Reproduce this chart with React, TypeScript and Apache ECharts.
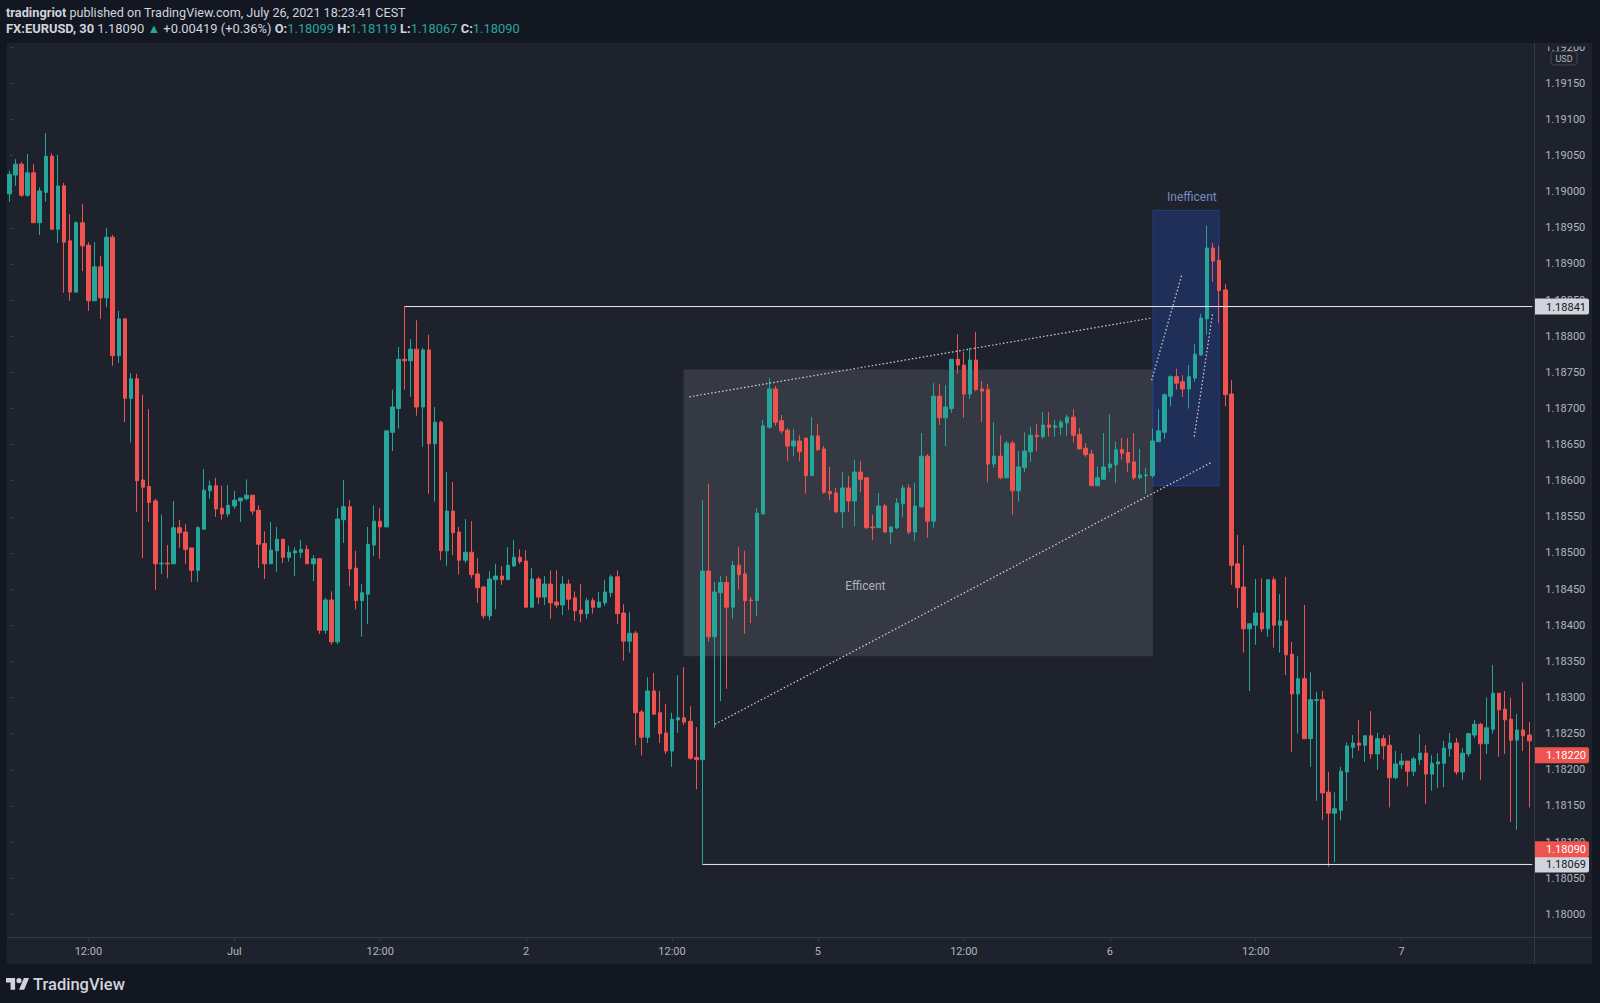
import React, { useEffect, useRef } from "react";
import * as echarts from "echarts";

// ---- OHLC data (EURUSD 30m), index 0 = 30 Jun 05:30 ----
const opens = [
  1.18997, 1.19023, 1.19038, 1.18995, 1.19026, 1.18957, 1.18999, 1.19049, 1.18948, 1.19008,
  1.18932, 1.18861, 1.18957, 1.18926, 1.18849, 1.18896, 1.18853, 1.18937, 1.18773, 1.18824,
  1.18714, 1.18741, 1.18601, 1.18592, 1.18572, 1.18485, 1.18486, 1.18485, 1.18535, 1.18529,
  1.18507, 1.18476, 1.18533, 1.18586, 1.18593, 1.18562, 1.18554, 1.18565, 1.18572, 1.18575,
  1.1858, 1.18559, 1.18513, 1.18485, 1.18503, 1.18519, 1.18494, 1.185, 1.18501, 1.18505,
  1.18485, 1.18492, 1.18393, 1.18435, 1.18377, 1.18546, 1.18564, 1.18479, 1.18434, 1.18443,
  1.18511, 1.18544, 1.18536, 1.18667, 1.187, 1.18768, 1.18766, 1.18782, 1.18702, 1.18781,
  1.18651, 1.18681, 1.18503, 1.18558, 1.18529, 1.1849, 1.18501, 1.18471, 1.18453, 1.18413,
  1.18463, 1.18468, 1.18463, 1.18482, 1.18494, 1.18489, 1.18425, 1.18464, 1.18439, 1.18457,
  1.18432, 1.18428, 1.18457, 1.18438, 1.18421, 1.18416, 1.18434, 1.18425, 1.18431, 1.18445,
  1.18467, 1.18417, 1.18378, 1.18389, 1.1828, 1.18245, 1.18309, 1.18279, 1.18251, 1.18226,
  1.18269, 1.18272, 1.18267, 1.18217, 1.18214, 1.18475, 1.18384, 1.18445, 1.18459, 1.18425,
  1.18483, 1.18471, 1.18435, 1.18434, 1.18554, 1.18674, 1.18727, 1.18683, 1.1867, 1.18648,
  1.18655, 1.18659, 1.18607, 1.18662, 1.18644, 1.18585, 1.18583, 1.18557, 1.1859, 1.18572,
  1.18612, 1.18604, 1.18536, 1.18535, 1.18565, 1.18529, 1.18535, 1.18568, 1.1859, 1.18529,
  1.18564, 1.18634, 1.18544, 1.18717, 1.18687, 1.187, 1.18768, 1.1876, 1.1872, 1.18767,
  1.18727, 1.18726, 1.18623, 1.18634, 1.18604, 1.18652, 1.18586, 1.18618, 1.1864, 1.18663,
  1.18661, 1.18677, 1.18674, 1.18674, 1.1868, 1.18688, 1.18664, 1.18645, 1.18637, 1.18593,
  1.18602, 1.18618, 1.18622, 1.18643, 1.18639, 1.18626, 1.18604, 1.18607, 1.18607, 1.18654,
  1.18667, 1.18717, 1.18744, 1.18737, 1.18727, 1.18742, 1.18774, 1.18824, 1.18922, 1.18905,
  1.18864, 1.1872, 1.18485, 1.18453, 1.18395, 1.184, 1.18417, 1.18395, 1.18463, 1.184,
  1.18406, 1.1836, 1.18305, 1.18326, 1.18243, 1.18296, 1.18297, 1.18169, 1.1814, 1.18144,
  1.18197, 1.18231, 1.18237, 1.18234, 1.18247, 1.18222, 1.18243, 1.18234, 1.18189, 1.18207,
  1.18212, 1.18198, 1.18214, 1.18223, 1.18194, 1.18208, 1.18209, 1.18229, 1.18237, 1.18197,
  1.18222, 1.18248, 1.18263, 1.18236, 1.18256, 1.18306, 1.18284, 1.1827, 1.18241, 1.18255,
  1.18248,
];
const highs = [
  1.19029, 1.19045, 1.19041, 1.19052, 1.19038, 1.19006, 1.19081, 1.19053, 1.19051, 1.19012,
  1.18969, 1.18959, 1.18983, 1.1893, 1.1893, 1.18911, 1.1895, 1.1894, 1.18835, 1.18825,
  1.18749, 1.18748, 1.18719, 1.18699, 1.18575, 1.18553, 1.18511, 1.18572, 1.18546, 1.1854,
  1.18507, 1.18537, 1.18616, 1.186, 1.18604, 1.18593, 1.18594, 1.18586, 1.18576, 1.18602,
  1.1858, 1.18566, 1.1853, 1.18543, 1.18536, 1.18519, 1.1851, 1.18508, 1.18518, 1.18511,
  1.18497, 1.18493, 1.18438, 1.18447, 1.18562, 1.18601, 1.18573, 1.18503, 1.18457, 1.18536,
  1.18566, 1.18562, 1.1867, 1.18726, 1.18785, 1.18841, 1.18796, 1.18822, 1.18784, 1.18802,
  1.18702, 1.18683, 1.18612, 1.18598, 1.18536, 1.18547, 1.18544, 1.18493, 1.18454, 1.18475,
  1.18485, 1.18482, 1.18508, 1.18518, 1.18505, 1.18504, 1.18479, 1.18467, 1.18468, 1.18476,
  1.18476, 1.18468, 1.18463, 1.18447, 1.18457, 1.18438, 1.18438, 1.18446, 1.18463, 1.1847,
  1.18476, 1.18429, 1.18418, 1.18392, 1.18283, 1.18328, 1.18334, 1.18309, 1.18291, 1.18279,
  1.18331, 1.18342, 1.18288, 1.18259, 1.18573, 1.18596, 1.1846, 1.18468, 1.18468, 1.18489,
  1.18508, 1.18503, 1.18439, 1.18562, 1.18684, 1.18742, 1.18731, 1.18691, 1.18673, 1.18672,
  1.18663, 1.18659, 1.18688, 1.18679, 1.18648, 1.18619, 1.1859, 1.18612, 1.18607, 1.18629,
  1.18627, 1.18605, 1.18553, 1.18583, 1.18568, 1.18536, 1.18576, 1.18594, 1.18595, 1.18597,
  1.18666, 1.18637, 1.18735, 1.18734, 1.18732, 1.18768, 1.18803, 1.18778, 1.18784, 1.18806,
  1.18738, 1.18734, 1.18681, 1.18663, 1.18655, 1.18655, 1.18641, 1.18667, 1.18674, 1.18679,
  1.18695, 1.18695, 1.18684, 1.18684, 1.18691, 1.18699, 1.18673, 1.18652, 1.18643, 1.1862,
  1.18666, 1.18692, 1.18654, 1.18659, 1.18659, 1.18666, 1.18644, 1.18618, 1.18672, 1.18699,
  1.18721, 1.18746, 1.18755, 1.18746, 1.1876, 1.18789, 1.18831, 1.18953, 1.18929, 1.18925,
  1.18872, 1.18739, 1.18525, 1.18511, 1.18403, 1.18464, 1.18465, 1.18463, 1.18467, 1.18443,
  1.18467, 1.18377, 1.18357, 1.18428, 1.18335, 1.18308, 1.18309, 1.18197, 1.18169, 1.18204,
  1.18238, 1.18248, 1.18269, 1.18247, 1.18281, 1.18251, 1.18248, 1.18248, 1.18226, 1.18223,
  1.18212, 1.18218, 1.18249, 1.18234, 1.1822, 1.18223, 1.1824, 1.18251, 1.18244, 1.1823,
  1.18251, 1.18269, 1.18265, 1.183, 1.18345, 1.18306, 1.18309, 1.183, 1.18277, 1.18321,
  1.18266,
];
const lows = [
  1.18986, 1.19008, 1.18993, 1.18993, 1.18957, 1.1894, 1.18986, 1.18948, 1.18929, 1.1886,
  1.18849, 1.1886, 1.1889, 1.18835, 1.18849, 1.18824, 1.1884, 1.18759, 1.18763, 1.18681,
  1.18653, 1.18557, 1.18493, 1.18543, 1.18449, 1.18471, 1.18465, 1.18485, 1.18507, 1.18485,
  1.1846, 1.1846, 1.18532, 1.18575, 1.1855, 1.18546, 1.1855, 1.18561, 1.18543, 1.18573,
  1.18553, 1.18479, 1.18464, 1.18485, 1.18474, 1.18486, 1.18488, 1.18468, 1.18493, 1.18485,
  1.18461, 1.18388, 1.18388, 1.18373, 1.18374, 1.18514, 1.18454, 1.18422, 1.18384, 1.18402,
  1.18496, 1.18492, 1.18536, 1.18641, 1.18672, 1.18726, 1.18716, 1.1869, 1.18647, 1.18582,
  1.18571, 1.1849, 1.18482, 1.18497, 1.1847, 1.18486, 1.18465, 1.18431, 1.18409, 1.18407,
  1.18422, 1.18456, 1.18463, 1.18481, 1.18485, 1.18424, 1.18424, 1.18429, 1.18428, 1.18409,
  1.18424, 1.18414, 1.18421, 1.18406, 1.18404, 1.18409, 1.18416, 1.18424, 1.18427, 1.18439,
  1.18402, 1.18351, 1.18362, 1.18234, 1.1822, 1.18237, 1.18276, 1.18237, 1.18222, 1.18204,
  1.18251, 1.18262, 1.18214, 1.18173, 1.18069, 1.18377, 1.18258, 1.18295, 1.18312, 1.18409,
  1.18449, 1.18388, 1.18403, 1.18413, 1.18554, 1.18672, 1.18676, 1.18665, 1.18627, 1.18634,
  1.18627, 1.18582, 1.18607, 1.18641, 1.18582, 1.18573, 1.18555, 1.18535, 1.18557, 1.18537,
  1.18584, 1.18533, 1.18518, 1.18535, 1.18528, 1.18512, 1.18533, 1.1855, 1.18526, 1.18517,
  1.18562, 1.18521, 1.18535, 1.18677, 1.18648, 1.18694, 1.18748, 1.18687, 1.18713, 1.18724,
  1.18681, 1.18598, 1.18618, 1.18602, 1.18604, 1.18553, 1.18571, 1.18612, 1.18626, 1.18641,
  1.18658, 1.18661, 1.18661, 1.18663, 1.18662, 1.18653, 1.18643, 1.18633, 1.18593, 1.18593,
  1.18602, 1.18612, 1.18597, 1.18629, 1.18612, 1.18601, 1.18602, 1.18582, 1.18604, 1.18654,
  1.18658, 1.18703, 1.18726, 1.18716, 1.187, 1.18737, 1.18773, 1.18802, 1.18875, 1.18818,
  1.18703, 1.18456, 1.18424, 1.18362, 1.18309, 1.18373, 1.18391, 1.18384, 1.18369, 1.18362,
  1.18331, 1.18225, 1.1825, 1.18243, 1.18204, 1.18157, 1.1813, 1.18066, 1.18072, 1.1813,
  1.18157, 1.18216, 1.18226, 1.18211, 1.18215, 1.182, 1.18214, 1.18148, 1.18187, 1.18201,
  1.18177, 1.18191, 1.18207, 1.18153, 1.18171, 1.18175, 1.18176, 1.18218, 1.18193, 1.18186,
  1.18218, 1.18244, 1.18186, 1.18222, 1.1825, 1.18218, 1.18222, 1.18128, 1.18117, 1.18226,
  1.18148,
];
const closes = [
  1.19024, 1.19038, 1.18995, 1.19026, 1.18957, 1.19001, 1.19049, 1.18948, 1.19008, 1.1893,
  1.18861, 1.18957, 1.18925, 1.18849, 1.18896, 1.18853, 1.18937, 1.18773, 1.18824, 1.18714,
  1.18741, 1.186, 1.18591, 1.1857, 1.18485, 1.18486, 1.18485, 1.18535, 1.18528, 1.18505,
  1.18476, 1.18535, 1.18587, 1.18593, 1.18561, 1.18554, 1.18566, 1.18573, 1.18576, 1.1858,
  1.18558, 1.18512, 1.18485, 1.18504, 1.18519, 1.18494, 1.18501, 1.18503, 1.18505, 1.18485,
  1.18492, 1.18393, 1.18435, 1.18377, 1.18547, 1.18564, 1.18478, 1.18434, 1.18445, 1.18512,
  1.18544, 1.18536, 1.18669, 1.18702, 1.18768, 1.18766, 1.18782, 1.18702, 1.18781, 1.18651,
  1.18681, 1.18503, 1.18558, 1.18528, 1.1849, 1.18501, 1.1847, 1.18452, 1.18413, 1.18464,
  1.18468, 1.18463, 1.18483, 1.18494, 1.18488, 1.18425, 1.18464, 1.18439, 1.18457, 1.18431,
  1.18428, 1.18457, 1.18436, 1.1842, 1.18416, 1.18434, 1.18425, 1.18432, 1.18446, 1.18467,
  1.18416, 1.18378, 1.18389, 1.18279, 1.18245, 1.18309, 1.18277, 1.1825, 1.18226, 1.1827,
  1.18272, 1.18266, 1.18216, 1.18214, 1.18475, 1.18384, 1.18446, 1.18459, 1.18425, 1.18483,
  1.1847, 1.18434, 1.18434, 1.18555, 1.18676, 1.18727, 1.18681, 1.18669, 1.18648, 1.18655,
  1.1864, 1.18607, 1.18662, 1.18643, 1.18584, 1.18582, 1.18557, 1.1859, 1.18572, 1.18612,
  1.18602, 1.18535, 1.18535, 1.18565, 1.18529, 1.18536, 1.18569, 1.1859, 1.18529, 1.18565,
  1.18634, 1.18544, 1.18717, 1.18687, 1.18702, 1.18768, 1.1876, 1.1872, 1.18767, 1.18726,
  1.18724, 1.18623, 1.18634, 1.18604, 1.18652, 1.18586, 1.18619, 1.18641, 1.18663, 1.18661,
  1.18677, 1.18674, 1.18676, 1.18681, 1.18688, 1.18663, 1.18644, 1.18636, 1.18593, 1.18604,
  1.18619, 1.18623, 1.18643, 1.18638, 1.18625, 1.18604, 1.18608, 1.18608, 1.18655, 1.18669,
  1.18719, 1.18744, 1.18735, 1.18727, 1.18744, 1.18775, 1.18825, 1.18922, 1.18904, 1.18863,
  1.18719, 1.18483, 1.18452, 1.18395, 1.18402, 1.18417, 1.18395, 1.18463, 1.184, 1.18406,
  1.18359, 1.18305, 1.18326, 1.18243, 1.18297, 1.18297, 1.18168, 1.1814, 1.18146, 1.18198,
  1.18233, 1.18237, 1.18234, 1.18247, 1.18222, 1.18243, 1.18233, 1.18189, 1.18208, 1.18212,
  1.18198, 1.18215, 1.18223, 1.18194, 1.18209, 1.18211, 1.1823, 1.18237, 1.18197, 1.18223,
  1.1825, 1.18263, 1.18236, 1.18258, 1.18306, 1.18283, 1.18269, 1.18241, 1.18255, 1.18247,
  1.1824,
];

// price-scale tick values
const priceTicks = [
  1.18, 1.1805, 1.181, 1.1815, 1.182, 1.1825, 1.183, 1.1835, 1.184, 1.1845, 1.185, 1.1855,
  1.186, 1.1865, 1.187, 1.1875, 1.188, 1.1885, 1.189, 1.1895, 1.19, 1.1905, 1.191, 1.1915, 1.192,
];

// trading sessions: [month, day, hour, minute, number of 30m bars]
const sessions = [
  [6, 30, 5, 30, 133],
  [7, 5, 0, 0, 118],
];

// horizontal rays: price, starting bar index
const rayPrices = [1.18841, 1.18069];
const rayStarts = [65, 114];

// right-axis price tags
const tagValues = [1.18841, 1.18069, 1.1822, 1.1809];
const tagKinds = ["line", "line", "red", "red"];

// dotted trend lines: [barIndex, price] pairs
const trendLines = [
  [[111.84, 1.18716], [187.78, 1.18825]],
  [[116.07, 1.18263], [197.65, 1.18625]],
  [[187.89, 1.18739], [192.88, 1.18886]],
  [[194.9, 1.18661], [197.93, 1.18833]],
];

// rectangles: [fromBar, toBar, lowPrice, highPrice]
const zoneNames = ["Efficent", "Inefficent"];
const zoneBounds = [
  [110.9, 188.1, 1.18357, 1.18754],
  [188.1, 199.0, 1.18593, 1.18974],
];
const zoneLabelPos = [
  [140.8, 1.18455],
  [194.5, 1.18993],
];

const Y_MIN = 1.1796859;
const Y_MAX = 1.1920572;
const UP = "#26a69a";
const DOWN = "#ef5350";
const FONT = "Roboto, 'Noto Sans', sans-serif";

const pad = (n: number) => (n < 10 ? "0" + n : "" + n);

function buildCategories() {
  const out: string[] = [];
  for (const s of sessions) {
    let [month, day, hour, minute, n] = s;
    for (let i = 0; i < n; i++) {
      out.push(`${month}/${day} ${pad(hour)}:${pad(minute)}`);
      minute += 30;
      if (minute === 60) {
        minute = 0;
        hour += 1;
      }
      if (hour === 24) {
        hour = 0;
        day += 1;
        if (month === 6 && day === 31) {
          month = 7;
          day = 1;
        }
      }
    }
  }
  return out;
}

const categories = buildCategories();
const isMajor = (v: string) => v.endsWith(" 00:00") || v.endsWith(" 12:00");
const fmtTime = (v: string) => {
  const [md, t] = v.split(" ");
  if (t === "12:00") return "12:00";
  if (t === "00:00") {
    const d = md.split("/")[1];
    return d === "1" ? "Jul" : d;
  }
  return "";
};

const logoPath =
  "M14 22H7V11H0V4h14v18zM28 22h-8l7.5-18h8L28 22zM24 8a4 4 0 1 1-8 0a4 4 0 1 1 8 0z";
echarts.graphic.registerShape("tvlogo", echarts.graphic.extendPath(logoPath, {}) as any);

function buildOption() {
  const candleData = opens.map((o, i) => [o, closes[i], lows[i], highs[i]]);
  const series: any[] = [];

  series.push({
    type: "line",
    name: "zones",
    xAxisIndex: 1,
    yAxisIndex: 0,
    data: [[0, 1.185]],
    symbol: "none",
    lineStyle: { opacity: 0 },
    silent: true,
    z: 1,
    markArea: {
      silent: true,
      data: zoneBounds.map((b, i) => [
        {
          coord: [b[0], b[3]],
          itemStyle:
            i === 0
              ? { color: "rgba(120,123,134,0.27)" }
              : { color: "rgba(41,98,255,0.2)", borderColor: "rgba(41,98,255,0.38)", borderWidth: 1 },
        },
        { coord: [b[1], b[2]] },
      ]),
    },
  });

  series.push({
    type: "candlestick",
    name: "EURUSD",
    xAxisIndex: 0,
    yAxisIndex: 0,
    data: candleData,
    barWidth: 4,
    z: 3,
    itemStyle: {
      color: UP,
      color0: DOWN,
      borderColor: UP,
      borderColor0: DOWN,
      borderWidth: 1,
    },
  });

  rayPrices.forEach((p, i) => {
    series.push({
      type: "line",
      xAxisIndex: 1,
      yAxisIndex: 0,
      data: [
        [rayStarts[i], p],
        [250.5, p],
      ],
      symbol: "none",
      silent: true,
      z: 4,
      lineStyle: { color: "#e8eaef", width: 1 },
    });
  });

  trendLines.forEach((pts) => {
    series.push({
      type: "line",
      xAxisIndex: 1,
      yAxisIndex: 0,
      data: pts,
      symbol: "none",
      silent: true,
      z: 4,
      lineStyle: { color: "rgba(255,255,255,0.8)", width: 1.2, type: [1.5, 2.2] },
    });
  });

  series.push({
    type: "scatter",
    xAxisIndex: 1,
    yAxisIndex: 0,
    symbolSize: 0,
    silent: true,
    z: 5,
    data: zoneLabelPos.map((p, i) => ({
      value: p,
      name: zoneNames[i],
      label: {
        show: true,
        position: "inside",
        formatter: zoneNames[i],
        color: i === 0 ? "#d1d4dc" : "#8fa8e6",
        fontSize: 12,
        fontFamily: FONT,
      },
    })),
  });

  return {
    animation: false,
    backgroundColor: "#1e222d",
    grid: { left: 6.3, right: 67.7, top: 43, bottom: 66 },
    xAxis: [
      {
        type: "category",
        data: categories,
        boundaryGap: true,
        axisLine: { show: false },
        axisTick: {
          show: true,
          alignWithLabel: true,
          interval: (_i: number, v: string) => isMajor(v),
          length: 4,
          lineStyle: { color: "#363a45" },
        },
        axisLabel: {
          interval: (_i: number, v: string) => isMajor(v),
          formatter: (v: string) => fmtTime(v),
          color: "#b2b5be",
          fontSize: 11,
          fontFamily: FONT,
          margin: 9,
        },
        splitLine: { show: false },
      },
      { type: "value", min: -0.5, max: 250.5, show: false },
    ],
    yAxis: [
      {
        type: "value",
        position: "right",
        min: Y_MIN,
        max: Y_MAX,
        axisLine: { show: false },
        splitLine: { show: false },
        axisTick: {
          show: true,
          customValues: priceTicks,
          length: 4,
          lineStyle: { color: "#363a45" },
        },
        axisLabel: {
          customValues: priceTicks,
          formatter: (v: number) => v.toFixed(5),
          color: "#b2b5be",
          fontSize: 11,
          fontFamily: FONT,
          margin: 13,
        },
      },
    ],
    series,
  };
}

export default function App() {
  const ref = useRef<HTMLDivElement>(null);
  useEffect(() => {
    document.body.style.margin = "0";
    document.body.style.background = "#131722";
    const chart = echarts.init(ref.current!, null, { renderer: "svg" });
    chart.setOption(buildOption() as any);

    const graphics: any[] = [
      { type: "rect", z: 100, silent: true, shape: { x: 0, y: 0, width: 1600, height: 43 }, style: { fill: "#131722" } },
      { type: "rect", z: 100, silent: true, shape: { x: 0, y: 964, width: 1600, height: 39 }, style: { fill: "#131722" } },
      { type: "rect", z: 100, silent: true, shape: { x: 0, y: 43, width: 7, height: 921 }, style: { fill: "#131722" } },
      { type: "rect", z: 100, silent: true, shape: { x: 1592, y: 43, width: 8, height: 921 }, style: { fill: "#131722" } },
      { type: "rect", z: 100, silent: true, shape: { x: 1536, y: 43, width: 56, height: 3.5 }, style: { fill: "#1e222d" } },
      { type: "line", z: 100, silent: true, shape: { x1: 7, y1: 937.5, x2: 1592, y2: 937.5 }, style: { stroke: "#363a45", lineWidth: 1 } },
      { type: "line", z: 100, silent: true, shape: { x1: 1534.5, y1: 43, x2: 1534.5, y2: 964 }, style: { stroke: "#363a45", lineWidth: 1 } },
      {
        type: "rect",
        z: 101,
        silent: true,
        shape: { x: 1551, y: 51.5, width: 26, height: 13.5, r: 3 },
        style: { fill: "#1e222d", stroke: "#434651", lineWidth: 1 },
      },
      {
        type: "text",
        z: 102,
        silent: true,
        x: 1564,
        y: 58.5,
        style: { text: "USD", fill: "#b2b5be", font: `9px ${FONT}`, align: "center", verticalAlign: "middle" },
      },
    ];

    tagValues.forEach((v, i) => {
      const py = chart.convertToPixel({ yAxisIndex: 0 } as any, v) as number;
      const red = tagKinds[i] === "red";
      graphics.push({
        type: "rect",
        z: 103,
        silent: true,
        shape: { x: 1535, y: py - 8, width: 54, height: 16, r: [0, 2, 2, 0] },
        style: { fill: red ? DOWN : "#d1d4dc" },
      });
      graphics.push({
        type: "text",
        z: 104,
        silent: true,
        x: 1546,
        y: py + 0.5,
        style: {
          text: v.toFixed(5),
          fill: red ? "#ffffff" : "#131722",
          font: `11px ${FONT}`,
          verticalAlign: "middle",
        },
      });
    });

    graphics.push({
      type: "text",
      z: 105,
      silent: true,
      x: 6,
      y: 12.5,
      style: {
        text: "{b|tradingriot} {n|published on TradingView.com, July 26, 2021 18:23:41 CEST}",
        verticalAlign: "middle",
        font: `12.6px ${FONT}`,
        fill: "#d1d4dc",
        rich: {
          b: { fontWeight: "bold", fontSize: 12.8, fontFamily: FONT, fill: "#d1d4dc" },
          n: { fontSize: 12.6, fontFamily: FONT, fill: "#d1d4dc" },
        },
      },
    });
    graphics.push({
      type: "text",
      z: 105,
      silent: true,
      x: 6,
      y: 28.8,
      style: {
        text:
          "{b|FX:EURUSD, 30} {n|1.18090} {g|▲} {n|+0.00419 (+0.36%)} {b|O:}{g|1.18099} {b|H:}{g|1.18119} {b|L:}{g|1.18067} {b|C:}{g|1.18090}",
        verticalAlign: "middle",
        font: `12.9px ${FONT}`,
        fill: "#d1d4dc",
        rich: {
          b: { fontWeight: "bold", fontSize: 12.9, fontFamily: FONT, fill: "#d1d4dc" },
          n: { fontSize: 12.9, fontFamily: FONT, fill: "#d1d4dc" },
          g: { fontSize: 12.9, fontFamily: FONT, fill: UP },
        },
      },
    });

    graphics.push({
      type: "tvlogo",
      z: 105,
      silent: true,
      x: 6,
      y: 975.4,
      scaleX: 0.65,
      scaleY: 0.65,
      style: { fill: "#d1d4dc" },
    });
    graphics.push({
      type: "text",
      z: 105,
      silent: true,
      x: 33,
      y: 984,
      style: {
        text: "TradingView",
        fill: "#d1d4dc",
        font: `500 16.5px ${FONT}`,
        verticalAlign: "middle",
      },
    });

    chart.setOption({ graphic: graphics } as any);
    return () => chart.dispose();
  }, []);
  return <div ref={ref} style={{ width: 1600, height: 1003 }} />;
}
